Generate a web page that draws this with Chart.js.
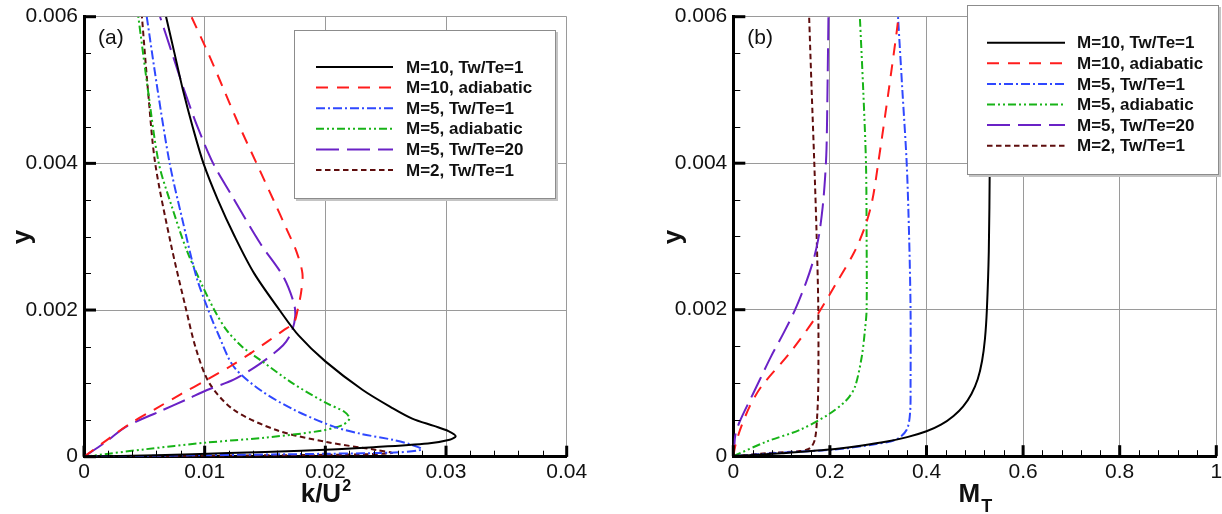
<!DOCTYPE html>
<html><head><meta charset="utf-8">
<script src="https://cdn.jsdelivr.net/npm/chart.js@4.4.1/dist/chart.umd.min.js"></script>
<style>
html,body{margin:0;padding:0;background:#fff;width:1222px;height:514px;overflow:hidden}
.box{position:absolute;top:0;height:514px;width:611px}
#wa{left:0}#wb{left:611px}
</style></head><body>
<div class="box" id="wa"><canvas id="ca" width="611" height="514"></canvas></div>
<div class="box" id="wb"><canvas id="cb" width="611" height="514"></canvas></div>
<script>
// ---------- labels ----------
const seriesNames = ['M=10, Tw/Te=1','M=10, adiabatic','M=5, Tw/Te=1','M=5, adiabatic','M=5, Tw/Te=20','M=2, Tw/Te=1'];
const yTickValues = [0, 0.002, 0.004, 0.006];
const yTickLabels = ['0', '0.002', '0.004', '0.006'];
const xTickValuesA = [0, 0.01, 0.02, 0.03, 0.04];
const xTickLabelsA = ['0', '0.01', '0.02', '0.03', '0.04'];
const xTickValuesB = [0, 0.2, 0.4, 0.6, 0.8, 1];
const xTickLabelsB = ['0', '0.2', '0.4', '0.6', '0.8', '1'];

// ---------- panel (a): k/U^2 versus y ----------
const k_M10_Tw1  = [0, 0.006, 0.012, 0.018, 0.024, 0.0285, 0.0303, 0.0308, 0.0302, 0.0290, 0.0272, 0.0256, 0.0231, 0.0200, 0.0178, 0.0162, 0.0141, 0.0125, 0.0111, 0.0099, 0.0090, 0.0082, 0.0075, 0.0068];
const yk_M10_Tw1 = [0, 0.00002, 0.00005, 0.00008, 0.00013, 0.00018, 0.00023, 0.00028, 0.00035, 0.00042, 0.00052, 0.00066, 0.00091, 0.00130, 0.00165, 0.0020, 0.0025, 0.0030, 0.0035, 0.0040, 0.0045, 0.0050, 0.0055, 0.0060];
const k_M10_ad   = [0, 0.0020, 0.0038, 0.0060, 0.0080, 0.0102, 0.0122, 0.0138, 0.0152, 0.0165, 0.0174, 0.0177, 0.0180, 0.0181, 0.0176, 0.0168, 0.0157, 0.0143, 0.0129, 0.0116, 0.0103, 0.0089];
const yk_M10_ad  = [0, 0.00024, 0.00045, 0.00066, 0.00085, 0.00105, 0.00124, 0.00141, 0.00157, 0.00172, 0.00183, 0.0020, 0.00225, 0.0025, 0.0028, 0.0031, 0.0035, 0.0040, 0.0045, 0.0050, 0.0055, 0.0060];
const k_M5_Tw1   = [0, 0.010, 0.020, 0.0262, 0.0280, 0.0270, 0.0256, 0.0230, 0.0207, 0.0174, 0.0146, 0.0124, 0.0111, 0.0103, 0.0093, 0.0081, 0.0071, 0.0061, 0.0052];
const yk_M5_Tw1  = [0, 0.00002, 0.00004, 0.00006, 0.0001, 0.00017, 0.00023, 0.00031, 0.00041, 0.00064, 0.00091, 0.00123, 0.00168, 0.0020, 0.00246, 0.00327, 0.0040, 0.0050, 0.0060];
const k_M5_ad    = [0, 0.0050, 0.0100, 0.0150, 0.0195, 0.0214, 0.0220, 0.0216, 0.0201, 0.0173, 0.0146, 0.0131, 0.0118, 0.0108, 0.0097, 0.0085, 0.0073, 0.0062, 0.0053, 0.0045];
const yk_M5_ad   = [0, 0.0001, 0.00019, 0.00026, 0.00035, 0.00043, 0.00052, 0.00061, 0.00073, 0.0010, 0.00132, 0.0015, 0.00173, 0.0020, 0.00237, 0.00282, 0.0034, 0.0040, 0.0050, 0.0060];
const k_M5_Tw20  = [0, 0.0018, 0.0035, 0.0063, 0.0085, 0.0102, 0.0124, 0.0146, 0.0165, 0.0172, 0.0175, 0.0174, 0.0165, 0.0146, 0.0121, 0.0107, 0.0094, 0.0083, 0.0073, 0.0063];
const yk_M5_Tw20 = [0, 0.0002, 0.00041, 0.00062, 0.00078, 0.00091, 0.00105, 0.00127, 0.00152, 0.0017, 0.00191, 0.00209, 0.00246, 0.00291, 0.0036, 0.0040, 0.0045, 0.0050, 0.0055, 0.0060];
const k_M2_Tw1   = [0, 0.008, 0.016, 0.022, 0.0255, 0.0243, 0.0201, 0.0160, 0.0124, 0.0104, 0.0093, 0.0084, 0.0072, 0.0059, 0.0053, 0.0048];
const yk_M2_Tw1  = [0, 0.00001, 0.00002, 0.00003, 0.00005, 0.00009, 0.0002, 0.00036, 0.00064, 0.0010, 0.00146, 0.00205, 0.0029, 0.0040, 0.0050, 0.0060];

// ---------- panel (b): M_T versus y ----------
const MT_M10_Tw1  = [0, 0.10, 0.20, 0.26, 0.318, 0.36, 0.40, 0.43, 0.456, 0.476, 0.493, 0.506, 0.515, 0.521, 0.525, 0.529, 0.531, 0.533];
const yM_M10_Tw1  = [0, 0.00004, 0.00009, 0.00014, 0.0002, 0.00026, 0.00034, 0.00043, 0.00055, 0.00068, 0.00085, 0.00105, 0.0013, 0.0016, 0.002, 0.0028, 0.004, 0.006];
const MT_M10_ad   = [0, 0.004, 0.014, 0.034, 0.058, 0.117, 0.172, 0.214, 0.250, 0.273, 0.288, 0.300, 0.321, 0.338, 0.342];
const yM_M10_ad   = [0, 0.00014, 0.00036, 0.00068, 0.00095, 0.00141, 0.00191, 0.00237, 0.00278, 0.00314, 0.0035, 0.0040, 0.00496, 0.00578, 0.0060];
const MT_M5_Tw1   = [0, 0.1035, 0.207, 0.29, 0.338, 0.359, 0.366, 0.367, 0.367, 0.364, 0.359, 0.350, 0.341];
const yM_M5_Tw1   = [0, 0.00005, 0.00009, 0.00016, 0.00023, 0.00036, 0.00059, 0.001, 0.002, 0.003, 0.004, 0.005, 0.006];
const MT_M5_ad    = [0, 0.069, 0.138, 0.197, 0.235, 0.252, 0.266, 0.2727, 0.276, 0.276, 0.2747, 0.269, 0.262];
const yM_M5_ad    = [0, 0.0002, 0.00036, 0.00057, 0.00077, 0.00095, 0.00136, 0.00173, 0.002, 0.003, 0.004, 0.005, 0.006];
const MT_M5_Tw20  = [0, 0.002, 0.004, 0.0124, 0.0414, 0.0553, 0.078, 0.104, 0.128, 0.150, 0.166, 0.177, 0.185, 0.190, 0.193, 0.195, 0.197];
const yM_M5_Tw20  = [0, 0.00012, 0.00028, 0.00046, 0.00086, 0.00105, 0.00136, 0.00168, 0.002, 0.00236, 0.00268, 0.0030, 0.0034, 0.0038, 0.0042, 0.0050, 0.0060];
const MT_M2_Tw1   = [0, 0.069, 0.138, 0.159, 0.169, 0.174, 0.176, 0.176, 0.1726, 0.1677, 0.1622, 0.157];
const yM_M2_Tw1   = [0, 0.00004, 0.00007, 0.00011, 0.00023, 0.00059, 0.001, 0.002, 0.003, 0.004, 0.005, 0.006];

// ---------- styles ----------
const lineColors = ['#000000', '#ff1c1c', '#2f48ff', '#17b317', '#6a22c6', '#5e0d0d'];
const lineDashes = [[], [12, 9], [9, 3, 2, 3], [8, 3, 2, 3, 2, 3], [23, 8], [5.5, 3.5]];
const FONT = '"Liberation Sans", Arial, Helvetica, sans-serif';

function makeDataset(xs, ys, i) {
  return {
    label: seriesNames[i],
    data: xs.map((v, j) => ({ x: v, y: ys[j] })),
    showLine: true, fill: false,
    borderColor: lineColors[i], borderWidth: 2, borderDash: lineDashes[i],
    pointRadius: 0, pointHoverRadius: 0, tension: 0.3
  };
}

const framePlugin = {
  id: 'frame',
  afterDatasetsDraw(chart, args, o) {
    const ctx = chart.ctx, L = o.legend;
    ctx.save();
    ctx.fillStyle = '#c4c4c4';
    ctx.fillRect(L.x + 2, L.y + 2, L.w, L.h);
    ctx.fillStyle = '#ffffff';
    ctx.fillRect(L.x, L.y, L.w, L.h);
    ctx.strokeStyle = '#8c8c8c'; ctx.lineWidth = 1;
    ctx.strokeRect(L.x + 0.5, L.y + 0.5, L.w - 1, L.h - 1);
    seriesNames.forEach((name, i) => {
      const yy = L.row0 + i * L.step;
      ctx.strokeStyle = lineColors[i]; ctx.lineWidth = 2; ctx.setLineDash(lineDashes[i]);
      ctx.beginPath(); ctx.moveTo(L.lx0, yy); ctx.lineTo(L.lx1, yy); ctx.stroke();
      ctx.setLineDash([]);
      ctx.fillStyle = '#111'; ctx.font = 'bold 17px ' + FONT;
      ctx.textBaseline = 'middle'; ctx.textAlign = 'left';
      ctx.fillText(name, L.tx, yy + 1);
    });
    ctx.restore();
  },
  afterDraw(chart, args, o) {
    const ctx = chart.ctx, a = chart.chartArea, xs = chart.scales.x, ys = chart.scales.y;
    ctx.save();
    ctx.strokeStyle = '#000';
    // minor ticks
    ctx.lineWidth = 1;
    const xMin = xs.min, xMax = xs.max;
    for (let i = 0; ; i++) {
      const v = xMin + i * o.xMinor; if (v > xMax + 1e-12) break;
      const p = Math.round(xs.getPixelForValue(v)) + 0.5;
      ctx.beginPath(); ctx.moveTo(p, a.bottom); ctx.lineTo(p, a.bottom - 6); ctx.stroke();
    }
    for (let i = 0; ; i++) {
      const v = ys.min + i * o.yMinor; if (v > ys.max + 1e-12) break;
      const p = Math.round(ys.getPixelForValue(v)) + 0.5;
      ctx.beginPath(); ctx.moveTo(a.left, p); ctx.lineTo(a.left + 7, p); ctx.stroke();
    }
    // major ticks
    ctx.lineWidth = 3;
    xs.ticks.forEach(t => {
      const p = xs.getPixelForValue(t.value);
      ctx.beginPath(); ctx.moveTo(p, a.bottom); ctx.lineTo(p, a.bottom - 11); ctx.stroke();
    });
    ys.ticks.forEach(t => {
      const p = ys.getPixelForValue(t.value);
      ctx.beginPath(); ctx.moveTo(a.left, p); ctx.lineTo(a.left + 12, p); ctx.stroke();
    });
    // panel label
    ctx.fillStyle = '#111';
    ctx.font = '21px ' + FONT; ctx.textAlign = 'left'; ctx.textBaseline = 'alphabetic';
    ctx.fillText(o.panel, a.left + 14, 44);
    // y title
    ctx.save();
    ctx.translate(o.yTitleX, 237); ctx.rotate(-Math.PI / 2);
    ctx.font = 'bold 26px ' + FONT; ctx.textAlign = 'center'; ctx.textBaseline = 'middle';
    ctx.fillText('y', 0, 0);
    ctx.restore();
    // x title with super/subscript
    const cx = (a.left + a.right) / 2;
    ctx.font = 'bold 26px ' + FONT;
    const w1 = ctx.measureText(o.xMain).width;
    ctx.font = 'bold ' + o.scriptSize + 'px ' + FONT;
    const w2 = ctx.measureText(o.xScript).width;
    const x0 = cx - (w1 + w2) / 2;
    ctx.textAlign = 'left'; ctx.textBaseline = 'alphabetic';
    ctx.font = 'bold 26px ' + FONT;
    ctx.fillText(o.xMain, x0, 502);
    ctx.font = 'bold ' + o.scriptSize + 'px ' + FONT;
    ctx.fillText(o.xScript, x0 + w1 + 1, o.scriptBase);
    ctx.restore();
  }
};

function makeChart(canvasId, datasets, xMax, xVals, xLabels, pad, xHeight, plugOpts) {
  return new Chart(document.getElementById(canvasId), {
    type: 'scatter',
    data: { datasets },
    plugins: [framePlugin],
    options: {
      responsive: false, animation: false, events: [],
      layout: { padding: pad },
      scales: {
        x: {
          type: 'linear', min: 0, max: xMax,
          afterBuildTicks: s => { s.ticks = xVals.map(v => ({ value: v })); },
          afterFit: s => { s.height = xHeight; s.paddingLeft = 0; s.paddingRight = 0; },
          grid: { color: '#9a9a9a', lineWidth: 1, drawTicks: false },
          border: { display: true, color: '#000', width: 3 },
          ticks: { font: { family: FONT, size: 21 }, color: '#111', padding: 3, maxRotation: 0, autoSkip: false,
                   callback: (v, i) => xLabels[i] }
        },
        y: {
          type: 'linear', min: 0, max: 0.006,
          afterBuildTicks: s => { s.ticks = yTickValues.map(v => ({ value: v })); },
          afterFit: s => { s.width = 84; s.paddingTop = 0; s.paddingBottom = 0; },
          grid: { color: '#9a9a9a', lineWidth: 1, drawTicks: false },
          border: { display: true, color: '#000', width: 3 },
          ticks: { font: { family: FONT, size: 21 }, color: '#111', padding: 6, autoSkip: false,
                   callback: (v, i) => yTickLabels[i] }
        }
      },
      plugins: { legend: { display: false }, tooltip: { enabled: false }, frame: plugOpts }
    }
  });
}

const datasetsA = [
  makeDataset(k_M10_Tw1, yk_M10_Tw1, 0),
  makeDataset(k_M10_ad, yk_M10_ad, 1),
  makeDataset(k_M5_Tw1, yk_M5_Tw1, 2),
  makeDataset(k_M5_ad, yk_M5_ad, 3),
  makeDataset(k_M5_Tw20, yk_M5_Tw20, 4),
  makeDataset(k_M2_Tw1, yk_M2_Tw1, 5)
];
const datasetsB = [
  makeDataset(MT_M10_Tw1, yM_M10_Tw1, 0),
  makeDataset(MT_M10_ad, yM_M10_ad, 1),
  makeDataset(MT_M5_Tw1, yM_M5_Tw1, 2),
  makeDataset(MT_M5_ad, yM_M5_ad, 3),
  makeDataset(MT_M5_Tw20, yM_M5_Tw20, 4),
  makeDataset(MT_M2_Tw1, yM_M2_Tw1, 5)
];

makeChart('ca', datasetsA, 0.04, xTickValuesA, xTickLabelsA,
  { left: 0, right: 44.3, top: 16.7, bottom: 0 }, 57.3,
  { panel: '(a)', xMain: 'k/U', xScript: '2', scriptSize: 16, scriptBase: 491, yTitleX: 23,
    xMinor: 0.002, yMinor: 0.0005,
    legend: { x: 294, y: 30, w: 262, h: 169, row0: 67, step: 20.6, lx0: 316, lx1: 393, tx: 406 } });

makeChart('cb', datasetsB, 1, xTickValuesB, xTickLabelsB,
  { left: 38.3, right: 5.7, top: 16.7, bottom: 0 }, 57.8,
  { panel: '(b)', xMain: 'M', xScript: 'T', scriptSize: 18, scriptBase: 512, yTitleX: 63,
    xMinor: 0.04, yMinor: 0.0005,
    legend: { x: 356, y: 5, w: 252, h: 170, row0: 42.7, step: 20.6, lx0: 376, lx1: 454, tx: 466 } });
</script>
</body></html>
